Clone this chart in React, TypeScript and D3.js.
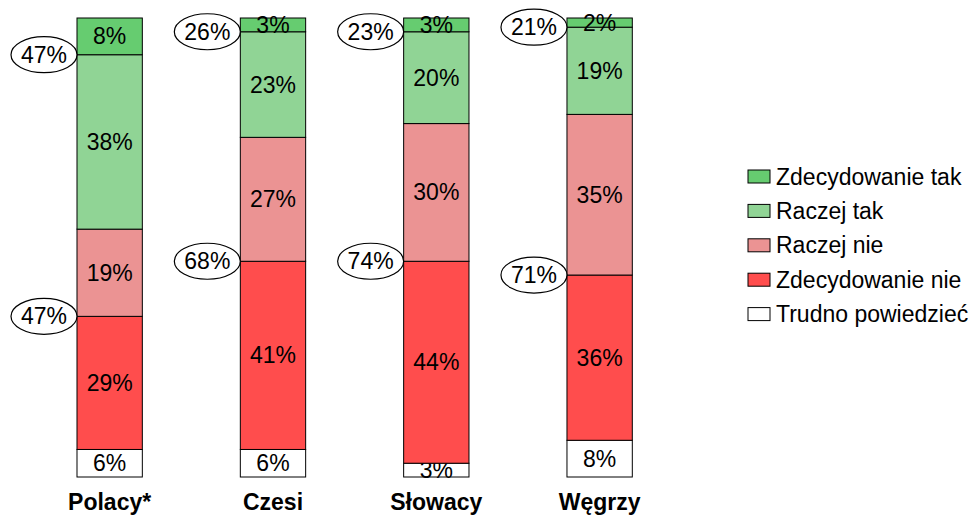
import React from "react";
import * as d3 from "d3";

const categories = ["Polacy*", "Czesi", "Słowacy", "Węgrzy"];
const seriesNames = ["Trudno powiedzieć", "Zdecydowanie nie", "Raczej nie", "Raczej tak", "Zdecydowanie tak"];
const trudno = [6, 6, 3, 8];
const zdecNie = [29, 41, 44, 36];
const raczejNie = [19, 27, 30, 35];
const raczejTak = [38, 23, 20, 19];
const zdecTak = [8, 3, 3, 2];
const sumTak = [47, 26, 23, 21];
const sumNie = [47, 68, 74, 71];
const legendOrder = ["Zdecydowanie tak", "Raczej tak", "Raczej nie", "Zdecydowanie nie", "Trudno powiedzieć"];

const colors: Record<string, string> = {
  "Zdecydowanie tak": "#66cc70",
  "Raczej tak": "#90d495",
  "Raczej nie": "#eb9393",
  "Zdecydowanie nie": "#ff4d4d",
  "Trudno powiedzieć": "#ffffff",
};

const FONT = "Liberation Sans, Arial, sans-serif";
const FS = 23;

export default function App() {
  const W = 975, H = 515;
  const seriesValues = [trudno, zdecNie, raczejNie, raczejTak, zdecTak];
  const rows = categories.map((c, i) => {
    const r: any = { cat: c };
    seriesNames.forEach((s, j) => (r[s] = seriesValues[j][i]));
    return r;
  });
  const stack = d3.stack<any>().keys(seriesNames)(rows);
  const x = d3.scaleBand().domain(categories).range([28, 681.3]).paddingInner(0.6).paddingOuter(0.3);
  const y = d3.scaleLinear().domain([0, 100]).range([477, 18]);
  const bw = x.bandwidth();

  return (
    <svg width={W} height={H} style={{ position: "absolute", left: 0, top: 0 }} fontFamily={FONT}>
      <rect width={W} height={H} fill="#fff" />
      {stack.map((layer) => (
        <g key={layer.key}>
          {layer.map((d, i) => {
            const x0 = x(categories[i])!;
            const y0 = y(d[1]);
            const h = y(d[0]) - y(d[1]);
            const v = d[1] - d[0];
            return (
              <g key={i}>
                <rect x={x0} y={y0} width={bw} height={h} fill={colors[layer.key]} stroke="#000" strokeWidth={1} />
                <text x={x0 + bw / 2} y={y0 + h / 2} textAnchor="middle" dominantBaseline="central" fontSize={FS} fill="#000">
                  {v}%
                </text>
              </g>
            );
          })}
        </g>
      ))}
      {categories.map((c, i) => {
        const x0 = x(c)!;
        const rx = 33, ry = 18;
        const yTak = y(100 - zdecTak[i]);
        const yNie = y(trudno[i] + zdecNie[i]);
        return (
          <g key={c}>
            {[
              [yTak, sumTak[i]],
              [yNie, sumNie[i]],
            ].map(([yy, val], k) => (
              <g key={k}>
                <ellipse cx={x0 - rx} cy={yy} rx={rx} ry={ry} fill="#fff" stroke="#000" strokeWidth={1.2} />
                <text x={x0 - rx} y={yy} textAnchor="middle" dominantBaseline="central" fontSize={FS}>
                  {val}%
                </text>
              </g>
            ))}
            <text x={x0 + bw / 2} y={510} textAnchor="middle" fontSize={FS} fontWeight="bold">
              {c}
            </text>
          </g>
        );
      })}
      {legendOrder.map((s, i) => {
        const cy = 176.5 + i * 34.4;
        return (
          <g key={s}>
            <rect x={748} y={cy - 6.5} width={22} height={13} fill={colors[s]} stroke="#000" strokeWidth={1} />
            <text x={776} y={cy} dominantBaseline="central" fontSize={FS}>
              {s}
            </text>
          </g>
        );
      })}
    </svg>
  );
}
